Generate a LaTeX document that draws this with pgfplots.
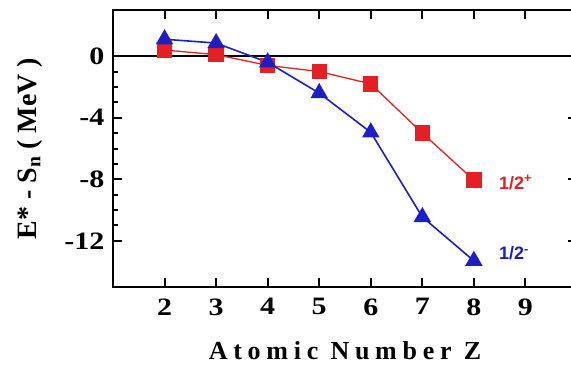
\documentclass[border=0pt]{standalone}
\usepackage{fontspec}
\setmainfont{Liberation Serif}
\newfontfamily\arialbf{Liberation Sans}
\usepackage{pgfplots}
\pgfplotsset{compat=1.18}
\definecolor{myred}{RGB}{228,32,36}
\definecolor{myblue}{RGB}{30,30,200}
\begin{document}
\begin{tikzpicture}
\begin{axis}[
 scale only axis, width=464pt, height=277pt,
 xmin=1, xmax=10, ymin=-15, ymax=3,
 xtick={2,3,4,5,6,7,8,9}, ytick={-12,-8,-4,0},
 minor y tick num=3,
 tick align=inside,
 major tick length=9pt, minor tick length=5pt,
 axis line style={line width=2.6pt},
 every tick/.style={line width=2pt, black},
 ticklabel style={font=\fontsize{25}{27}\selectfont\bfseries\addfontfeatures{FakeStretch=1.2}},
 x tick label style={yshift=-8pt},
 y tick label style={xshift=-5pt},
 /pgf/number format/assume math mode=true,
 xlabel={\addfontfeatures{LetterSpace=22}Atomic Number Z},
 ylabel={E* - S\textsubscript{n} ( MeV )},
 xlabel style={font=\fontsize{26}{28}\selectfont\bfseries, at={(axis description cs:0.5,0)}, anchor=center, yshift=-64pt},
 ylabel style={font=\fontsize{28}{30}\selectfont\bfseries, at={(axis description cs:0,0.5)}, anchor=center, yshift=83pt},
 clip=false,
]
\addplot[line width=2.6pt, black, no marks] coordinates {(1,0) (10,0)};
\addplot[myred, line width=1.3pt, mark=square*, mark size=7pt, mark options={solid, fill=myred}] coordinates {
(2,0.4) (3,0.1) (4,-0.6) (5,-1.0) (6,-1.8) (7,-5.0) (8,-8.05)};
\addplot[myblue, line width=1.6pt, mark=triangle*, mark size=8.5pt, mark options={solid, fill=myblue}] coordinates {
(2,1.1) (3,0.85) (4,-0.4) (5,-2.4) (6,-4.95) (7,-10.45) (8,-13.3)};
\node[anchor=west, text=myred, font=\arialbf\fontsize{18}{20}\selectfont\bfseries] at (axis cs:8.42,-8.2) {1/2\textsuperscript{+}};
\node[anchor=west, text=myblue, font=\arialbf\fontsize{18}{20}\selectfont\bfseries] at (axis cs:8.42,-12.8) {1/2\textsuperscript{-}};
\coordinate (bl) at (rel axis cs:0,0);
\end{axis}
\pgfresetboundingbox
\path[use as bounding box] (bl) ++(-113pt,-78pt) rectangle ++(571pt,365pt);
\end{tikzpicture}
\end{document}
